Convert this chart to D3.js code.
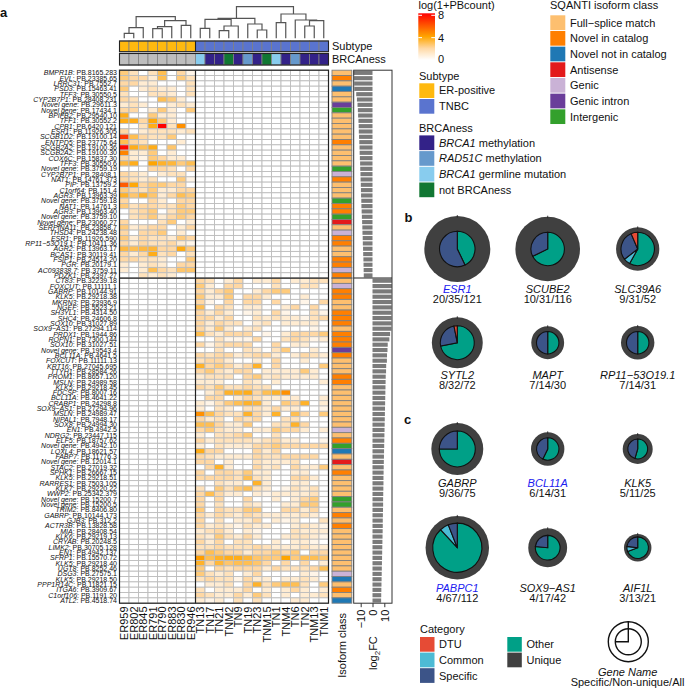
<!DOCTYPE html>
<html><head><meta charset="utf-8">
<script src="https://cdn.jsdelivr.net/npm/d3@7/dist/d3.min.js"></script>
<style>
html,body{margin:0;padding:0;background:#fff}
svg{display:block;font-family:"Liberation Sans",Arial,sans-serif}
text{fill:#111}
</style></head><body><svg id="c" width="685" height="689"></svg>
<script>
const erCols=["ER959","ER802","ER845","ER791","ER790","ER883","ER830","ER946"];
const tnCols=["TN13","TN17","TN21","TNM2","TN9","TN19","TN23","TNM15","TN1","TNM4","TN6","TN2","TNM13","TNM1"];
const brcaness=["g","m","m","n","m","r","m","n","g","m","r","m","m","m"];
const upperLabels=[["BMPR1B","PB.8165.283"],["EVL","PB.23385.65"],["LRRC31","PB.7552.7"],["PSD3","PB.15463.41"],["TFF3","PB.30550.5"],["CYP2B7P1","PB.28408.231"],["Novel gene","PB.29611.3"],["Novel gene","PB.17434.1"],["BPIFB2","PB.29540.10"],["TFF1","PB.30552.2"],["CPB1","PB.6420.121"],["ESR1","PB.11926.305"],["SCGB1D2","PB.19100.14"],["ENTPD5","PB.23775.64"],["SCGB2A2","PB.19100.36"],["SCGB2A2","PB.19100.30"],["COX6C","PB.15837.30"],["TFF3","PB.30550.6"],["Novel gene","PB.3759.19"],["CYP2B7P1","PB.28408.1"],["NAT1","PB.14761.373"],["PIP","PB.13759.2"],["C1orf64","PB.151.4"],["AGR3","PB.13963.39"],["Novel gene","PB.3759.18"],["NAT1","PB.14761.3"],["AGR3","PB.13963.40"],["Novel gene","PB.3759.10"],["Novel gene","PB.23060.27"],["SERPINA11","PB.23858.7"],["THSD4","PB.24238.48"],["ESR1","PB.11926.590"],["RP11−53O19.1","PB.10411.36"],["AGR2","PB.13963.17"],["BCAS1","PB.30119.41"],["FSIP1","PB.24514.20"],["PGR","PB.20179.1"],["AC093838.7","PB.3759.11"],["PDZK1","PB.2397.27"]];
const lowerLabels=[["CT83","PB.32239.18"],["FOXCUT","PB.11111.1"],["GABRP","PB.10144.91"],["KLK5","PB.29218.38"],["MKRN3","PB.23936.9"],["NGEF","PB.5523.21"],["SH3YL1","PB.4314.50"],["SHC4","PB.24606.8"],["SOX10","PB.31027.89"],["SOX9−AS1","PB.27294.114"],["PRDX1","PB.1944.86"],["ROPN1","PB.7300.144"],["SOX10","PB.31027.51"],["Novel gene","PB.19543.4"],["BCL11A","PB.4641.5"],["FOXCUT","PB.11111.13"],["KRT16","PB.27045.695"],["TTYH1","PB.28584.26"],["PROM1","PB.8657.120"],["MSLN","PB.24989.58"],["KLK5","PB.29218.45"],["FDCSP","PB.8007.16"],["BCL11A","PB.4641.22"],["CRABP1","PB.24298.8"],["SOX9−AS1","PB.27294.96"],["MSLN","PB.24989.47"],["NIPAL1","PB.7948.17"],["SOX8","PB.24994.30"],["EN1","PB.4942.5"],["NDRG2","PB.23447.115"],["ELF5","PB.18757.62"],["Novel gene","PB.4942.10"],["LOXL4","PB.18621.57"],["FABP7","PB.11776.3"],["Novel gene","PB.12014.1"],["STAC2","PB.27019.32"],["SPHK1","PB.26667.15"],["KLK5","PB.29218.51"],["RARRES1","PB.7503.105"],["KLK7","PB.29220.22"],["WWP2","PB.25342.379"],["Novel gene","PB.15200.7"],["Novel gene","PB.15200.5"],["TRIM2","PB.8406.80"],["GABRP","PB.10144.173"],["GJB3","PB.312.2"],["ACTR3B","PB.13828.58"],["MIA","PB.28408.54"],["KLK6","PB.29219.13"],["CRYAB","PB.20248.5"],["LIMK2","PB.30705.128"],["EN1","PB.4942.137"],["SFRP1","PB.15570.72"],["KLK5","PB.29218.40"],["UGT8","PB.8252.46"],["DSG3","PB.27575.1"],["KLK5","PB.29218.50"],["PPP1R14C","PB.11821.15"],["ITGA6","PB.3909.67"],["C1orf106","PB.1191.20"],["ATL2","PB.4518.74"]];
const erValues=[
[2.5,1.5,0,1.5,3,0,2,.5],[2.5,2,2,1,3,0,2.5,1.5],[2,2,1,1,0,0,0,1.5],[2.5,0,1,1.5,1,1,0,1.5],[1.5,0,0,1.5,1.5,1,0,1.5],
[2,1.5,0,0,3,2.5,1,0],[1,1.5,1,0,0,1,1.5,1],[2,2,0,1,2.5,1,0,2.5],[3.7,0,0,2.5,1,1,0,0],[3.7,3.7,2,3.9,2.5,1,0,0],
[0,0,1.5,3.7,8,1.5,4.5,0],[2,0,1,1.5,1.5,1.5,1,1.5],[6.7,3,2,1.5,1.5,2.5,0,0],[3,2,1.5,0,0,0,1,0],[7.8,3.7,3,3.7,0,2.7,0,0],
[4.8,1,1,2.5,0,1,0,0],[2,1,.5,2.5,2,1,1,0],[3.2,3.7,0,4,3.5,3.3,2.5,3],[0,0,0,2,2,1.5,0,2],[2,1.5,1,0,1,1.5,1.5,0],
[2,1.5,1,1.5,0,0,2.5,.5],[5.8,3.9,2,2.5,2.5,2,2,0],[2.5,2,1.5,2.5,1,1,2,2],[3.5,2.7,3.5,2.7,1,2,3,2.5],[2,0,0,2,1,0,2,2],
[2.5,1.5,2,2,1.5,1.5,2.5,2],[0,1.5,2,2.5,0,1.5,2.5,2.5],[0,1.5,2,2.5,1,2,2.5,2],[2,0,0,0,1.5,2.5,0,1],[2.5,1,1.5,2,2,0,1,2],
[2,0,2,2,2.5,0,1,0],[2.5,1,2,1.5,1.5,1,2.5,2],[2,1,2,1.5,1.5,2,1,.5],[3.2,3,3.2,3.3,2,2,3.8,2.5],[2,1,2,3.7,1.5,2,0,1.5],
[2,2,1.5,1.5,1,0,0,2.5],[1,0,1,1.5,1,0,2,2],[1,0,1,3,2,1.5,2.7,2.7],[0,0,1.5,1,1.5,1,0,0]];
const tnValues=[
[2,1.5,0,1,2,0,1,1,2,0,1,1,1.5,1.5],[2.5,1,0,2,2,0,0,0,1.5,0,0,1.5,1.5,0],[2,1,2,2.5,0,0,1,2,2.5,2.5,0,0,0,0],[2.5,1,1,2.5,0,2,2,1,0,0,0,1,0,0],[2,.5,0,2,0,2,2,0,2,0,0,.5,0,2],
[3,0,2,1.5,0,1,1,0,0,1,2,0,2,0],[2,1,2,1,0,.5,1,0,2,.5,0,0,1.5,.5],[2,2,1,2,0,0,1.5,1,1.5,1,1,.5,1.5,2],[2,1,2,1.5,1.5,0,1,1.5,0,1,1,1,1,0],[2,1,2.5,1,0,1,1.5,0,0,0,0,0,.5,0],
[3,1.5,1,2,2,2,0,.5,0,1,2,2,2,2.5],[0,0,1.5,.5,.5,.5,2,0,0,1.5,2,1.5,.5,1],[2,.5,1.5,2,2,2,0,0,2,0,1,1,0,0],[0,0,1.5,0,0,1.5,1,0,1.5,2.5,0,0,1,0],[2,1.5,2,2,1,1.5,2,2,1,0,1,2,1.5,1],
[1.5,2,2,1,0,0,1,0,2,0,0,1,0,0],[3.5,2,2.5,2,1,2,3.5,0,2,0,0,0,0,2.5],[2,2.5,1.5,1,2,2,0,1,1,1,1,2.5,1,0],[1,1.5,1.5,1.5,0,2,2.5,1,1.5,1,1,1,1,0],[1,1,1,0,0,1.5,1,0,1,0,0,0,0,1],
[2,1.5,2.5,1.5,1.5,2,1.5,1.5,0,0,0,0,0,0],[0,1,2,3.5,3.5,3.7,2,3,3.5,4.5,0,0,0,0],[0,2,2,0,1,2,1.5,1,1,1,1,0,0,1],[1,.5,1.5,2.5,3,3.5,3.3,1,0,2.5,2,3.5,0,1],[1,0,1.5,1,0,1.5,1.5,1,2,1,1,0,0,.5],
[4.5,3,2,1.5,1.5,3.5,2,1,3.5,0,3,2,0,2.5],[2,1,1.5,0,2,1.5,2,0,0,1.5,1.5,0,0,0],[3,3,2,1,1,2.5,0,0,1.5,1.5,3.5,2,0,0],[2,2.5,1.5,1,1,0,1,1,2.5,2,2,1,0,1],[1,0,1.5,1.5,2,2.5,0,0,1.5,0,0,0,0,0],
[2,1,1.5,1.5,1.5,1.5,1,1.5,2,1,1,0,0,.5],[1,0,1.5,1,1,1,2,2,2.5,2,2,2,2,2],[3.7,2,2,0,0,0,2,1,2,0,0,0,0,0],[2,1.5,1,1,1,1,2,1.5,1.5,2,2,2,2,0],[2,2,0,1,0,0,1.5,1,1,1,1.5,0,0,0],
[0,2,3.5,1,0,0,2,1,1.5,0,2,1,1,2.5],[2,0,2,2,1.5,2.5,1,1,0,0,1,1,0,0],[2,2,2,2,1.5,3,1.5,1,0,0,2,2,1,0],[0,0,1.5,1,1,0,3.5,1,0,0,1,1,0,0],[1.5,0,2.5,1.5,2.5,3,1.5,1,0,.5,1.5,1,1.5,0],
[2,3,2,1,1,0,1,.5,1,1,1,1,1.5,0],[2,0,2,0,0,2,0,0,1,0,1,2,2.5,0],[2,0,1.5,0,0,1.5,1,0,0,1,1,2.5,2.5,0],[2.5,0,2,1.5,1.5,2.5,2.5,0,0,2,2,1,2,0],[2,1,2,1.5,1,2,1.5,1,1,1,1,1.5,1,0],
[2,0,1.5,0,1,1,2,0,1,.5,1,0,0,1.5],[2,1,1.5,1,.5,1.5,1,1,0,0,1,1.5,1,.5],[1,1.5,2,1,0,1,.5,0,0,0,1.5,1,1,1],[1.5,1,2.5,1.5,1,2,1,0,0,1,1.5,1.5,1,.5],[2,1,2,0,1.5,1.5,0,0,1,0,1,1,.5,0],
[1.5,1.5,2,1.5,1.5,1.5,2,1.5,1,1,1,1.5,1,1],[2,3,2.5,2,2,1,2,2,2.5,2,2.5,0,2,2],[4.2,3,3.5,3.7,3.7,3.3,2.7,2.5,2.5,4,2.5,3,3,2.7],[3.5,2,3.3,2.7,3,3,2.7,2,0,2,0,2,0,1],[2.5,0,2,1.5,2,2,2,1,2,1.5,1.5,1.5,2,3],
[2.5,1.5,1,1.5,0,1,2,0,0,0,0,1,.5,0],[1.5,2,1.5,1.5,.5,2,1,1,0,1,1,1.5,1,0],[0,1,1,1.5,0,2,3.5,1.5,2.5,3,3,1.5,0,2.5],[1.5,0,1,1,1,2,0,1,0,1,2,1,0,1],[2,1.5,1,1,2,1,2.5,1.5,0,1,0,1,1,1.5],
[1,.5,1,0,1.5,0,1.5,0,0,0,1,1,0,0]];
const upperClass="FNFBFFIEFFFFFNFFFFEGNFFFENNERFGNNFFNNGN".split("");
const lowerClass="FGNNFFNNNFNNNINFFFNNFFFFFFFFGFNEBFRFNFFFFEEFNFNFFFFFFFFGBFNFB".split("");
const upperFC=[-16.2,-15.6,-15.5,-15.4,-13.8,-13.2,-12.7,-12.4,-12.2,-11.9,-11.7,-11.6,-11.4,-11.2,-11,-10.9,-10.7,-10.5,-10.4,-10.2,-10.1,-9.9,-9.8,-9.7,-9.5,-9.4,-9.2,-9,-8.8,-8.6,-8.5,-8.3,-8.2,-8,-7.9,-7.7,-7.6,-7.5,-7.4];
const lowerFC=[16.4,16.4,16.3,16.2,16.2,16.2,16.1,16.1,16.1,16,14.9,14.3,12.9,12.7,12.3,12.2,11.6,11.5,11.2,11.1,11,10.9,10.8,10.7,10.6,10.5,10.4,10.3,10.2,10.1,10,9.9,9.8,9.7,9.6,9.5,9.4,9.3,9.3,9.2,9.1,9,9,8.9,8.8,8.7,8.7,8.6,8.5,8.4,8.3,8.2,8.1,8,7.9,7.8,7.7,7.6,7.5,7.4,7.3];
const fcTicks=[-10,0,10];
const heatTicks=[0,4,8];
const erTree=[[["ER959","ER802",5],"ER845",10.7],[[["ER791","ER790",9.7],"ER883",11.7],["ER830","ER946",13],17.7],21.7];
const tnTree=[[[["TN13","TN17",10],[["TN21","TNM2",7.6],"TN9",12.3],19],["TN19",["TN23","TNM15",8.3],14.3],20],[["TN1","TNM4",15.6],["TN6",[["TN2","TNM13",12.3],"TNM1",17.6],18.3],24.3],31.6];
const subtypeNames=["ER-positive","TNBC"];
const brcaKeys=["m","r","g","n"];
const brcaGene=["BRCA1","RAD51C","BRCA1","not BRCAness"];
const brcaRest=[" methylation"," methylation"," germline mutation",""];
const classKeys=["F","N","B","R","G","I","E"];
const classNames=["Full−splice match","Novel in catalog","Novel not in catalog","Antisense","Genic","Genic intron","Intergenic"];
const pieGenes=["ESR1","SCUBE2","SLC39A6","SYTL2","MAPT","RP11−53O19.1","GABRP","BCL11A","KLK5","PABPC1","SOX9−AS1","AIF1L"];
const pieSpecific=[20,10,9,8,7,7,9,6,5,4,4,3];
const pieNonUnique=[35,31,31,32,14,14,36,14,11,67,17,13];
const pieAll=[121,116,52,72,30,31,75,31,25,112,42,21];
const pieDTU=[0,0,2,1,0,0,0,0,0,0,0,0];
const pieCommon=[0,0,2,0,0,0,0,0,0,4,0,1];
const blueGenes=["ESR1","BCL11A","PABPC1"];
const categoryNames=["DTU","Common","Specific","Other","Unique"];

const svg=d3.select("#c");
const F="Liberation Sans";
const colors={sub:{"ER-positive":"#ffb90f","TNBC":"#5a74cf"},
 brca:{m:"#332288",r:"#6699cc",g:"#88ccee",n:"#117733",none:"#bebebe"},
 cls:{F:"#fdbf6f",N:"#ff7f00",B:"#1f78b4",R:"#e31a1c",G:"#cab2d6",I:"#6a3d9a",E:"#33a02c"},
 cat:{DTU:"#e64b35",Common:"#4dbbd5",Specific:"#3c5488",Other:"#00a087",Unique:"#404040"}};

const allCols=erCols.concat(tnCols);
const allLabels=upperLabels.concat(lowerLabels);
const allClass=upperClass.concat(lowerClass);
const allFC=upperFC.concat(lowerFC);
const rowIdx=d3.range(allLabels.length);
const x=d3.scaleBand().domain(allCols).range([119.5,328.5]);
const y=d3.scaleBand().domain(rowIdx).range([70.2,603.2]);
const heat=d3.scaleLinear().domain([0,2,4,8]).range(["#ffffff","#ffd8a4","#ffa500","#ff0000"]);
const splitY=y(upperLabels.length), splitX=x(tnCols[0]);

const cells=[];
allLabels.forEach((l,r)=>allCols.forEach((c,ci)=>{
  let v=0;
  if(r<upperLabels.length&&ci<erCols.length)v=erValues[r][ci];
  if(r>=upperLabels.length&&ci>=erCols.length)v=tnValues[r-upperLabels.length][ci-erCols.length];
  cells.push({r,c,v});
}));
svg.append("g").selectAll("rect").data(cells).join("rect")
 .attr("x",d=>x(d.c)).attr("y",d=>y(d.r)).attr("width",x.bandwidth()).attr("height",y.bandwidth())
 .attr("fill",d=>heat(d.v)).attr("stroke","#bdbdbd").attr("stroke-width",.9);
const frame=svg.append("g").attr("fill","none").attr("stroke","#222").attr("stroke-width",1.2);
frame.append("rect").attr("x",119.5).attr("y",70.2).attr("width",209).attr("height",533);
frame.append("line").attr("x1",splitX).attr("x2",splitX).attr("y1",70.2).attr("y2",603.2);
frame.append("line").attr("x1",119.5).attr("x2",328.5).attr("y1",splitY).attr("y2",splitY);

const rl=svg.append("g").attr("font-size",7).attr("text-anchor","end").selectAll("text").data(allLabels).join("text")
 .attr("x",117).attr("y",(d,i)=>y(i)+y.bandwidth()/2+2.5);
rl.append("tspan").attr("font-style","italic").text(d=>d[0]);
rl.append("tspan").text(d=>": "+d[1]);

svg.append("g").attr("font-size",11).selectAll("text").data(allCols).join("text")
 .attr("text-anchor","end")
 .attr("transform",d=>`translate(${x(d)+x.bandwidth()/2+4},606.5) rotate(-90)`).text(d=>d);

const subG=svg.append("g");
subG.selectAll("rect").data(allCols).join("rect")
 .attr("x",d=>x(d)).attr("y",41).attr("width",x.bandwidth()).attr("height",10.7)
 .attr("fill",d=>erCols.includes(d)?colors.sub["ER-positive"]:colors.sub["TNBC"]).attr("stroke","#808080").attr("stroke-width",.8);
const brG=svg.append("g");
brG.selectAll("rect").data(allCols).join("rect")
 .attr("x",d=>x(d)).attr("y",53.5).attr("width",x.bandwidth()).attr("height",11.5)
 .attr("fill",(d,i)=>i<erCols.length?colors.brca.none:colors.brca[brcaness[i-erCols.length]]).attr("stroke","#808080").attr("stroke-width",.8);
[[41,10.7],[53.5,11.5]].forEach(a=>svg.append("rect").attr("x",119.5).attr("y",a[0]).attr("width",209).attr("height",a[1]).attr("fill","none").attr("stroke","#222").attr("stroke-width",1.1));
svg.append("line").attr("x1",splitX).attr("x2",splitX).attr("y1",41).attr("y2",51.7).attr("stroke","#222").attr("stroke-width",1.1);
svg.append("text").attr("x",332).attr("y",50).attr("font-size",11).text("Subtype");
svg.append("text").attr("x",332).attr("y",63).attr("font-size",11).text("BRCAness");

const hS=d3.scaleLinear().domain([0,31.6]).range([38.3,6.7]);
const dendroG=svg.append("g").attr("fill","none").attr("stroke","#555").attr("stroke-width",1.2);
function dendro(n){
  if(typeof n==="string")return {x:x(n)+x.bandwidth()/2,h:0};
  const a=dendro(n[0]),b=dendro(n[1]),Y=hS(n[2]);
  dendroG.append("path").attr("d",`M${a.x},${hS(a.h)}V${Y}H${b.x}V${hS(b.h)}`);
  return {x:(a.x+b.x)/2,h:n[2]};
}
dendro(erTree);dendro(tnTree);

svg.append("g").selectAll("rect").data(rowIdx).join("rect")
 .attr("x",332).attr("y",d=>y(d)).attr("width",19.8).attr("height",y.bandwidth())
 .attr("fill",d=>colors.cls[allClass[d]]).attr("stroke","#808080").attr("stroke-width",.9);
svg.append("line").attr("x1",331.5).attr("x2",352.5).attr("y1",splitY).attr("y2",splitY).attr("stroke","#555").attr("stroke-width",1);
svg.append("text").attr("font-size",11).attr("text-anchor","end")
 .attr("transform","translate(346,613) rotate(-90)").text("Isoform class");

const fc=d3.scaleLinear().domain([-10,10]).range([360.7,384.3]);
svg.append("rect").attr("x",353.7).attr("y",70.2).attr("width",38.3).attr("height",533).attr("fill","#fff");
svg.append("g").selectAll("rect").data(rowIdx).join("rect")
 .attr("x",d=>Math.min(fc(0),fc(allFC[d]))).attr("y",d=>y(d)+.6)
 .attr("width",d=>Math.abs(fc(allFC[d])-fc(0))).attr("height",y.bandwidth()-1.2).attr("fill","#7a7a7a");
svg.append("rect").attr("x",353.7).attr("y",70.2).attr("width",38.3).attr("height",533).attr("fill","none").attr("stroke","#333").attr("stroke-width",1);
svg.append("line").attr("x1",353.7).attr("x2",392).attr("y1",splitY).attr("y2",splitY).attr("stroke","#222").attr("stroke-width",1.1);
const axG=svg.append("g").attr("transform","translate(0,603.2)").call(d3.axisBottom(fc).tickValues(fcTicks).tickSize(4));
axG.select(".domain").remove();
axG.selectAll("line").attr("stroke","#333");
axG.selectAll("text").attr("font-size",11).attr("font-family",F).attr("fill","#111")
 .attr("text-anchor","end").attr("dy",0).attr("x",0).attr("y",0).attr("transform","translate(4,6.5) rotate(-90)");
const fl=svg.append("text").attr("font-size",11).attr("transform","translate(377,670) rotate(-90)");
fl.append("tspan").text("log");
fl.append("tspan").attr("font-size",8).attr("dy",2.5).text("2");
fl.append("tspan").attr("dy",-2.5).text("FC");

[["a",0,17],["b",404.5,222],["c",404,423.5]].forEach(p=>svg.append("text").attr("x",p[1]).attr("y",p[2]).attr("font-size",13).attr("font-weight","bold").text(p[0]));

const defs=svg.append("defs");
const grad=defs.append("linearGradient").attr("id","hg").attr("x1",0).attr("x2",0).attr("y1",1).attr("y2",0);
d3.range(0,8.01,.5).forEach(v=>grad.append("stop").attr("offset",v/8).attr("stop-color",heat(v)));
const cb=d3.scaleLinear().domain([0,8]).range([60,15.3]);
svg.append("text").attr("x",418.5).attr("y",8.5).attr("font-size",11).text("log(1+PBcount)");
svg.append("rect").attr("x",418.3).attr("y",cb(8)-2).attr("width",16.7).attr("height",cb(0)-cb(8)+2).attr("fill","url(#hg)");
heatTicks.filter(v=>v>0).forEach(v=>{
  svg.append("line").attr("x1",418.3).attr("x2",422).attr("y1",cb(v)).attr("y2",cb(v)).attr("stroke","#fff");
  svg.append("line").attr("x1",431.3).attr("x2",435).attr("y1",cb(v)).attr("y2",cb(v)).attr("stroke","#fff");
});
svg.append("g").attr("font-size",11).selectAll("text").data(heatTicks).join("text")
 .attr("x",438).attr("y",d=>cb(d)+(d===0?3:4)).text(d=>d);

function sw(xp,yp,c,w){svg.append("rect").attr("x",xp).attr("y",yp).attr("width",w||15).attr("height",14.7).attr("fill",c);}
svg.append("text").attr("x",419).attr("y",80).attr("font-size",11).text("Subtype");
subtypeNames.forEach((n,i)=>{const yp=83.3+15.7*i;sw(419.3,yp,colors.sub[n]);
 svg.append("text").attr("x",439).attr("y",yp+11).attr("font-size",11).text(n);});
svg.append("text").attr("x",419).attr("y",132).attr("font-size",11).text("BRCAness");
brcaKeys.forEach((k,i)=>{const yp=135.4+15.7*i;sw(419.3,yp,colors.brca[k]);
 const t=svg.append("text").attr("x",439).attr("y",yp+11.2).attr("font-size",11);
 if(k==="n")t.text(brcaGene[i]);else{t.append("tspan").attr("font-style","italic").text(brcaGene[i]);t.append("tspan").text(brcaRest[i]);}});
svg.append("text").attr("x",550).attr("y",9).attr("font-size",11).text("SQANTI isoform class");
classKeys.forEach((k,i)=>{const yp=15.3+15.67*i;sw(550.3,yp,colors.cls[k]);
 svg.append("text").attr("x",570).attr("y",yp+11.2).attr("font-size",11).text(classNames[i]);});

const rS=d3.scaleSqrt().domain([0,121]).range([0,33]);
const pieCx=[457.3,547.7,637.7], pieCy=[249,342.7,449,547.7];
const nameBase=[293,378.5,487,592];
const pie=d3.pie().sort(null).value(d=>d.v);
pieGenes.forEach((g,i)=>{
  const col=i%3,row=Math.floor(i/3);
  const G=svg.append("g").attr("transform",`translate(${pieCx[col]},${pieCy[row]})`);
  const rO=rS(pieAll[i]),rI=rS(pieNonUnique[i]);
  G.append("circle").attr("r",rO).attr("fill",colors.cat.Unique);
  G.append("line").attr("y1",-rO-1).attr("y2",-rO+1.5).attr("stroke","#222").attr("stroke-width",.8);
  const parts=[{k:"Other",v:pieNonUnique[i]-pieSpecific[i]-pieDTU[i]-pieCommon[i]},{k:"Common",v:pieCommon[i]},{k:"Specific",v:pieSpecific[i]},{k:"DTU",v:pieDTU[i]}].filter(d=>d.v>0);
  G.selectAll("path").data(pie(parts)).join("path").attr("d",d3.arc().innerRadius(0).outerRadius(rI))
   .attr("fill",d=>colors.cat[d.data.k]).attr("stroke","#111").attr("stroke-width",1.1);
  svg.append("text").attr("x",pieCx[col]).attr("y",nameBase[row]).attr("text-anchor","middle").attr("font-size",11).attr("font-style","italic")
   .style("fill",blueGenes.includes(g)?"#2020f0":"#111").text(g);
  svg.append("text").attr("x",pieCx[col]).attr("y",nameBase[row]+10).attr("text-anchor","middle").attr("font-size",11)
   .text(pieSpecific[i]+"/"+pieNonUnique[i]+"/"+pieAll[i]);
});

svg.append("text").attr("x",420).attr("y",633).attr("font-size",11).text("Category");
categoryNames.forEach((n,i)=>{
  const c2=i>=3, yp=637+15.6*(c2?i-3:i), xp=c2?507.3:420;
  sw(xp,yp,colors.cat[n],14.5);
  svg.append("text").attr("x",c2?526.5:439).attr("y",yp+11.3).attr("font-size",11).text(n);
});
const key=svg.append("g").attr("transform","translate(628.3,641.7)").attr("fill","#fff").attr("stroke","#111").attr("stroke-width",1.4);
key.append("circle").attr("r",20);
key.append("circle").attr("r",13);
key.append("path").attr("d","M0,-20V0H-13").attr("fill","none");
svg.append("text").attr("x",627.7).attr("y",675.5).attr("text-anchor","middle").attr("font-size",11).attr("font-style","italic").text("Gene Name");
svg.append("text").attr("x",627.5).attr("y",686).attr("text-anchor","middle").attr("font-size",11).text("Specific/Non-unique/All");
</script></body></html>
